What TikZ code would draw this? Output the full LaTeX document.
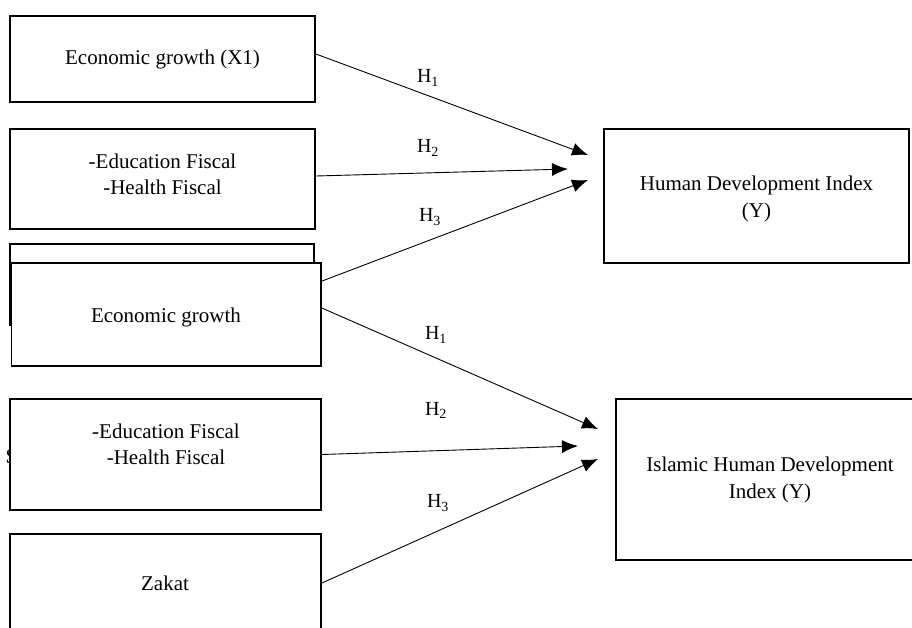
\documentclass[tikz,border=0pt]{standalone}
\usepackage{fontspec}
\setmainfont{Liberation Serif}
\usetikzlibrary{arrows.meta}
\begin{document}
\begin{tikzpicture}[x=1pt,y=-1pt,
  box/.style={draw=black,line width=1.9pt,fill=white,rectangle,inner sep=0pt},
  txt/.style={align=center,inner sep=0pt,font=\fontsize{21}{26.5}\selectfont},
  hyp/.style={inner sep=0pt,font=\fontsize{20}{24}\selectfont},
  arr/.style={line width=0.9pt,-{Latex[length=16pt,width=13pt]}}]
\useasboundingbox (0,0) rectangle (912,627);
\clip (0,0) rectangle (912,627);
% upper model
\node[box,minimum width=305pt,minimum height=86pt] (eg1) at (162.5,59) {};
\node[txt] (eg1t) at (162.5,59) {Economic growth (X1)};
\node[box,minimum width=305pt,minimum height=100pt] (fis1) at (162.5,179) {};
\node[txt] (fis1t) at (162.5,174.5) {-Education Fiscal\\-Health Fiscal};
\node[box,minimum width=304pt,minimum height=81pt] (hid) at (162,284.5) {};
\node[box,minimum width=309.5pt,minimum height=103pt] (eg2) at (166.25,314.5) {};
\node[txt] (eg2t) at (166,317) {Economic growth};
\node[box,minimum width=305pt,minimum height=134pt] (hdi) at (756.5,196) {};
\node[txt] (hdit) at (756.5,199) {Human Development Index\\(Y)};
% lower model
\node[txt] (s) at (11.5,457) {S};
\node[box,minimum width=311pt,minimum height=111pt] (fis2) at (165.5,454.5) {};
\node[txt] (fis2t) at (166,444.5) {-Education Fiscal\\-Health Fiscal};
\node[box,minimum width=311pt,minimum height=98pt] (zak) at (165.5,583) {};
\node[txt] (zakt) at (165,583) {Zakat};
\node[box,minimum width=304pt,minimum height=161pt] (ihdi) at (768,479.5) {};
\node[txt] (ihdit) at (770,480) {Islamic Human Development\\Index (Y)};
% arrow ends
\coordinate (a1) at (588,155);
\coordinate (a2) at (568,169);
\coordinate (a3) at (588,180);
\coordinate (b1) at (598,429);
\coordinate (b2) at (578,446);
\coordinate (b3) at (598,459);
% arrows
\draw[arr] ([yshift=5pt]eg1.east) -- (a1);
\draw[arr] ([yshift=3pt]fis1.east) -- (a2);
\draw[arr] ([yshift=-19pt]eg2.north east) -- (a3);
\draw[arr] ([yshift=-46pt]eg2.north east) -- (b1);
\draw[arr] (fis2.east) -- (b2);
\draw[arr] (zak.east) -- (b3);
% labels
\node[hyp] (h1u) at (428,78) {H\textsubscript{1}};
\node[hyp] (h2u) at (428,148) {H\textsubscript{2}};
\node[hyp] (h3u) at (430,217) {H\textsubscript{3}};
\node[hyp] (h1l) at (436,335) {H\textsubscript{1}};
\node[hyp] (h2l) at (436,410) {H\textsubscript{2}};
\node[hyp] (h3l) at (438,503) {H\textsubscript{3}};
\end{tikzpicture}
\end{document}
